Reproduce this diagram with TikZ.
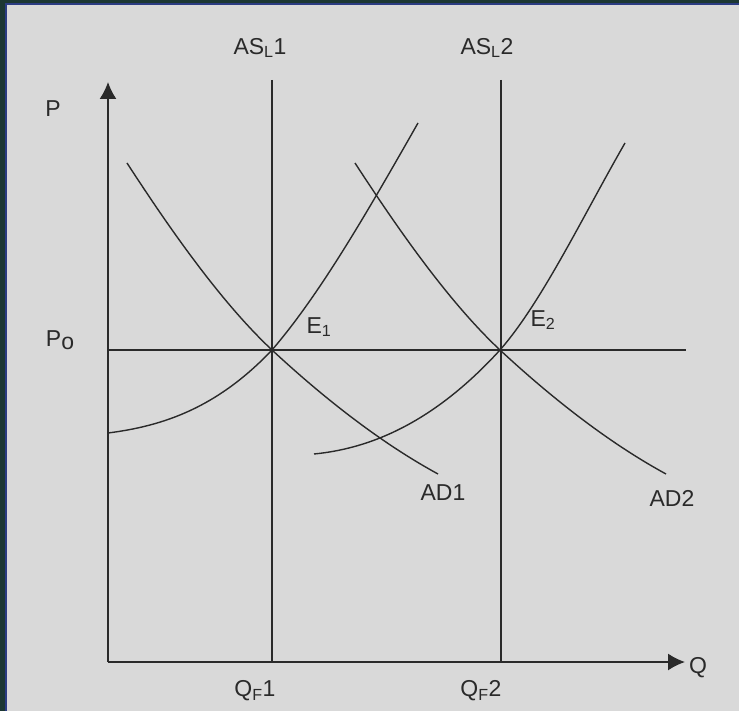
\documentclass[tikz,border=0pt]{standalone}
\usepackage{fontspec}
\setmainfont{Liberation Sans}
\usetikzlibrary{arrows.meta}
\definecolor{panel}{HTML}{D9D9D9}
\definecolor{frameout}{HTML}{1C3733}
\definecolor{frameline}{HTML}{2B3C82}
\definecolor{ink}{HTML}{2A2A2A}
\tikzset{lbl/.style={inner sep=0pt,font=\fontsize{23}{26}\selectfont,text=ink},
  curve/.style={ink, line width=1.4pt}}

\begin{document}
\begin{tikzpicture}[x=1pt,y=-1pt]
\fill[panel] (0,0) rectangle (739,711);
\fill[frameout] (0,0) rectangle (739,3);
\fill[frameout] (0,0) rectangle (5,711);
\fill[frameline] (5,3) rectangle (739,5);
\fill[frameline] (5,3) rectangle (7,711);
\useasboundingbox (0,0) rectangle (739,711);

\coordinate (O) at (108,662);
\coordinate (Ptop) at (108,82);
\coordinate (Qend) at (685,662);
\coordinate (A1) at (272,80);
\coordinate (A2) at (272,662);
\coordinate (B1) at (501,80);
\coordinate (B2) at (501,662);
\coordinate (P0) at (108,350);
\coordinate (P1) at (686,350);
\coordinate (E1) at (272,350);
\coordinate (E2) at (500,350);

\path[->, ink, >={Latex[length=17pt,width=17pt]}, line width=1.6pt] (O) edge [] node[]{} (Ptop);
\path[->, ink, >={Latex[length=17pt,width=17pt]}, line width=1.6pt] (O) edge [] node[]{} (Qend);
\path[ink, line width=1.5pt] (A1) edge [] node[]{} (A2);
\path[ink, line width=1.5pt] (B1) edge [] node[]{} (B2);
\path[ink, line width=1.4pt] (P0) edge [] node[]{} (P1);

% demand
\draw[curve] (127,163) .. controls (175,237) and (224,305) .. (E1)
  .. controls (327,401) and (383,444) .. (438,474);
\draw[curve] (355,163) .. controls (403,237) and (452,305) .. (E2)
  .. controls (555,401) and (611,444) .. (666,474);
% supply
\draw[curve] (108,433) .. controls (163,426) and (217,408) .. (E1)
  .. controls (321,293) and (369,209) .. (418,123);
\draw[curve] (314,454) .. controls (376,448) and (438,418) .. (E2)
  .. controls (542,302) and (583,216) .. (625,143);

\node[lbl] (lP) at (53,109) {P};
\node[lbl] (lPo) at (60,340) {P\raisebox{-3pt}{o}};
\node[lbl] (lQ) at (698,668) {Q};
\node[lbl] (lAS1) at (260,48) {AS\textsubscript{L}1};
\node[lbl] (lAS2) at (487,48) {AS\textsubscript{L}2};
\node[lbl] (lE1) at (319,327) {E\textsubscript{1}};
\node[lbl] (lE2) at (543,320) {E\textsubscript{2}};
\node[lbl] (lAD1) at (443,493) {AD1};
\node[lbl] (lAD2) at (672,498) {AD2};
\node[lbl] (lQ1) at (255,691) {Q\textsubscript{F}1};
\node[lbl] (lQ2) at (481,691) {Q\textsubscript{F}2};

\end{tikzpicture}
\end{document}
